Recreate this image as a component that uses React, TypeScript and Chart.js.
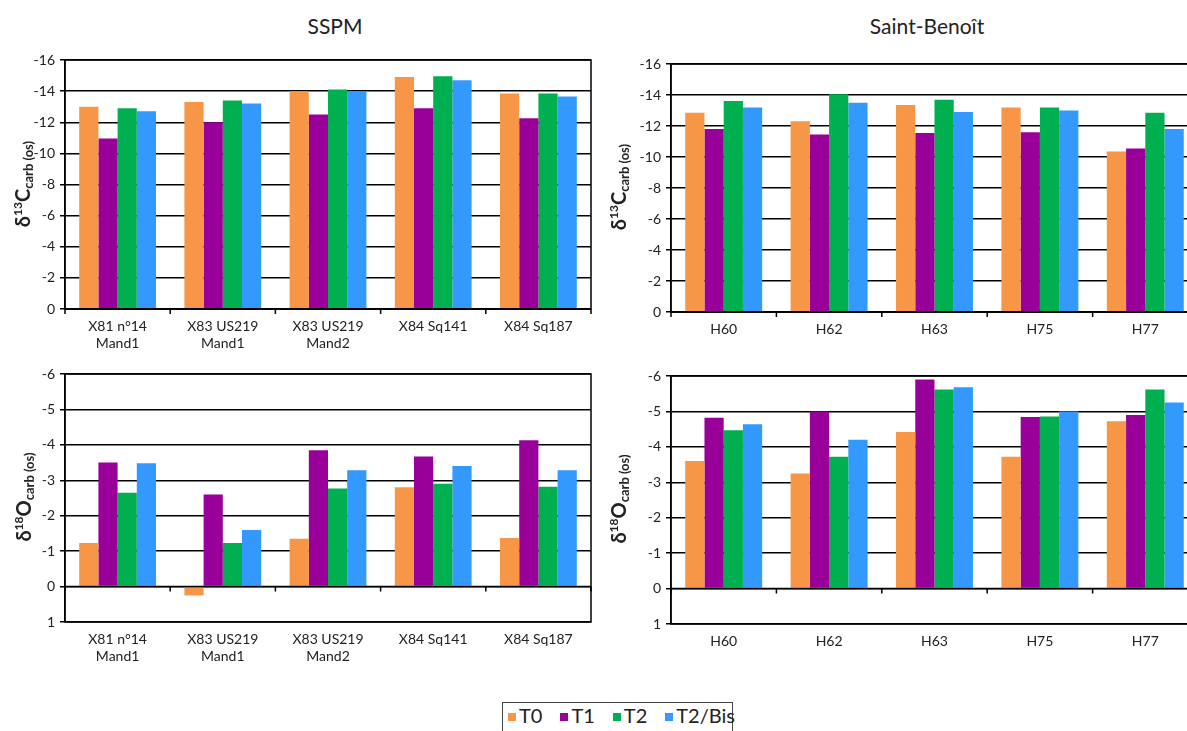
import React, { useEffect, useRef } from 'react';
import { Chart, registerables } from 'chart.js';

Chart.register(...registerables);

const seriesNames = ['T0', 'T1', 'T2', 'T2/Bis'];
const seriesColors = ['#F79646', '#990099', '#00B050', '#3399FF'];

const sspmLabels = [['X81 n°14', 'Mand1'], ['X83 US219', 'Mand1'], ['X83 US219', 'Mand2'], 'X84 Sq141', 'X84 Sq187'];
const sbLabels = ['H60', 'H62', 'H63', 'H75', 'H77'];

const d13CTicks = [-16, -14, -12, -10, -8, -6, -4, -2, 0];
const d18OTicks = [-6, -5, -4, -3, -2, -1, 0, 1];

// SSPM δ13C
const sspmC_T0 = [-13.0, -13.3, -14.0, -14.9, -13.85];
const sspmC_T1 = [-10.95, -12.0, -12.5, -12.9, -12.25];
const sspmC_T2 = [-12.9, -13.4, -14.1, -14.95, -13.85];
const sspmC_T2Bis = [-12.7, -13.2, -13.95, -14.7, -13.65];

// Saint-Benoît δ13C
const sbC_T0 = [-12.85, -12.3, -13.35, -13.2, -10.35];
const sbC_T1 = [-11.8, -11.45, -11.55, -11.6, -10.55];
const sbC_T2 = [-13.62, -14.05, -13.7, -13.2, -12.85];
const sbC_T2Bis = [-13.2, -13.5, -12.9, -13.0, -11.8];

// SSPM δ18O
const sspmO_T0 = [-1.23, 0.25, -1.35, -2.8, -1.37];
const sspmO_T1 = [-3.5, -2.6, -3.85, -3.67, -4.13];
const sspmO_T2 = [-2.65, -1.23, -2.77, -2.9, -2.82];
const sspmO_T2Bis = [-3.48, -1.6, -3.28, -3.4, -3.28];

// Saint-Benoît δ18O
const sbO_T0 = [-3.6, -3.25, -4.42, -3.72, -4.72];
const sbO_T1 = [-4.82, -5.0, -5.9, -4.84, -4.9];
const sbO_T2 = [-4.47, -3.72, -5.62, -4.86, -5.62];
const sbO_T2Bis = [-4.64, -4.2, -5.68, -5.0, -5.25];

const FONT = 'Lato, "Open Sans", sans-serif';
const TEXT = '#222';

const framePlugin = {
  id: 'frame',
  afterDatasetsDraw(chart: any) {
    const { ctx, chartArea: a, scales } = chart;
    const y0 = scales.y.getPixelForValue(0);
    const n = chart.data.labels.length;
    ctx.save();
    ctx.strokeStyle = '#000';
    ctx.lineWidth = 1.5;
    ctx.strokeRect(a.left, a.top, a.width, a.height);
    ctx.beginPath();
    ctx.moveTo(a.left, y0);
    ctx.lineTo(a.right, y0);
    for (let i = 0; i <= n; i++) {
      const x = scales.x.getPixelForValue(i - 0.5);
      ctx.moveTo(x, y0);
      ctx.lineTo(x, y0 + 5);
    }
    ctx.stroke();
    ctx.restore();
  },
};

type PanelProps = {
  x: number; y: number; w: number; h: number;
  labels: any[]; series: number[][]; ticks: number[];
  padTop: number; padRight: number; yWidth: number; xHeight: number;
};

function Panel(p: PanelProps) {
  const ref = useRef<HTMLCanvasElement | null>(null);
  useEffect(() => {
    const chart = new Chart(ref.current as HTMLCanvasElement, {
      type: 'bar',
      data: {
        labels: p.labels,
        datasets: p.series.map((d, i) => ({
          label: seriesNames[i],
          data: d,
          backgroundColor: seriesColors[i],
          borderWidth: 0,
          categoryPercentage: 0.73,
          barPercentage: 1.0,
        })),
      },
      options: {
        animation: false,
        responsive: false,
        maintainAspectRatio: false,
        layout: { padding: { top: p.padTop, right: p.padRight, left: 0, bottom: 0 } },
        plugins: { legend: { display: false }, tooltip: { enabled: false }, title: { display: false } },
        scales: {
          x: {
            grid: { display: false, drawTicks: false },
            border: { display: false },
            ticks: { font: { family: FONT, size: 14 }, color: TEXT, padding: 9, maxRotation: 0, autoSkip: false },
            afterFit: (s: any) => { s.height = p.xHeight; },
          },
          y: {
            reverse: true,
            min: p.ticks[0],
            max: p.ticks[p.ticks.length - 1],
            afterBuildTicks: (s: any) => { s.ticks = p.ticks.map((v) => ({ value: v })); },
            ticks: { font: { family: FONT, size: 14 }, color: TEXT, padding: 5 },
            grid: { color: '#000', lineWidth: 1.5, tickLength: 5 },
            border: { display: true, color: '#000', width: 1.5 },
            afterFit: (s: any) => { s.width = p.yWidth; },
          },
        },
      },
      plugins: [framePlugin],
    });
    return () => chart.destroy();
  }, []);
  return (
    <canvas
      ref={ref}
      width={p.w}
      height={p.h}
      style={{ position: 'absolute', left: p.x, top: p.y, width: p.w, height: p.h }}
    />
  );
}

function YTitle({ cx, cy, iso, el }: { cx: number; cy: number; iso: string; el: string }) {
  return (
    <div
      style={{
        position: 'absolute', left: cx, top: cy,
        transform: 'translate(-50%, -50%) rotate(-90deg)',
        whiteSpace: 'nowrap', fontFamily: FONT, fontWeight: 'bold', fontSize: 20,
        color: TEXT, lineHeight: '20px',
      }}
    >
      δ<sup style={{ fontSize: 12, verticalAlign: '8px', lineHeight: 0 }}>{iso}</sup>{el}
      <sub style={{ fontSize: 13, verticalAlign: '-3px', lineHeight: 0 }}>carb (os)</sub>
    </div>
  );
}

export default function App() {
  return (
    <div style={{ position: 'absolute', left: 0, top: 0, width: 1187, height: 731, overflow: 'hidden', background: '#fff' }}>
      <div style={{ position: 'absolute', left: 335, top: 25, transform: 'translate(-50%, -50%)', fontFamily: FONT, fontSize: 21, color: TEXT, whiteSpace: 'nowrap' }}>SSPM</div>
      <div style={{ position: 'absolute', left: 927, top: 25, transform: 'translate(-50%, -50%)', fontFamily: FONT, fontSize: 21, color: TEXT, whiteSpace: 'nowrap' }}>Saint-Benoît</div>

      <Panel x={0} y={40} w={600} h={320} labels={sspmLabels} ticks={d13CTicks}
        series={[sspmC_T0, sspmC_T1, sspmC_T2, sspmC_T2Bis]} padTop={20} padRight={9} yWidth={65} xHeight={51} />
      <Panel x={600} y={40} w={600} h={320} labels={sbLabels} ticks={d13CTicks}
        series={[sbC_T0, sbC_T1, sbC_T2, sbC_T2Bis]} padTop={24} padRight={2} yWidth={71} xHeight={48} />
      <Panel x={0} y={355} w={600} h={320} labels={sspmLabels} ticks={d18OTicks}
        series={[sspmO_T0, sspmO_T1, sspmO_T2, sspmO_T2Bis]} padTop={19} padRight={9} yWidth={65} xHeight={53} />
      <Panel x={600} y={355} w={600} h={320} labels={sbLabels} ticks={d18OTicks}
        series={[sbO_T0, sbO_T1, sbO_T2, sbO_T2Bis]} padTop={21} padRight={2} yWidth={71} xHeight={51} />

      <YTitle cx={22} cy={184} iso="13" el="C" />
      <YTitle cx={618} cy={187} iso="13" el="C" />
      <YTitle cx={23} cy={497} iso="18" el="O" />
      <YTitle cx={618} cy={499} iso="18" el="O" />

      <div
        style={{
          position: 'absolute', left: 502, top: 702, width: 231, height: 40,
          border: '1px solid #444', boxSizing: 'border-box', display: 'flex',
          alignItems: 'flex-start', paddingLeft: 5, paddingTop: 1, gap: 18,
          fontFamily: FONT, fontSize: 20, lineHeight: '22px', color: TEXT,
        }}
      >
        {seriesNames.map((n, i) => (
          <div key={n} style={{ display: 'flex', alignItems: 'center', whiteSpace: 'nowrap' }}>
            <span style={{ display: 'inline-block', width: 8, height: 8, background: seriesColors[i], marginRight: 3, marginTop: 4 }} />
            <span>{n}</span>
          </div>
        ))}
      </div>
    </div>
  );
}
